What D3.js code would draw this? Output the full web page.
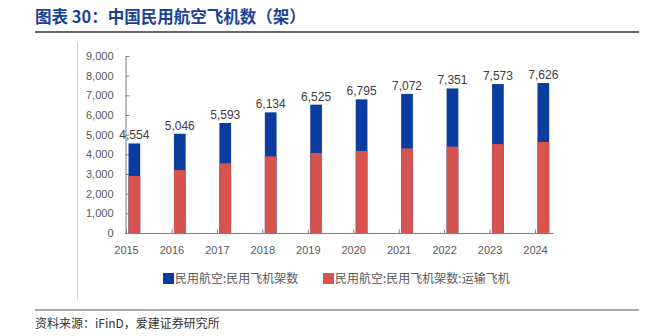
<!DOCTYPE html>
<html lang="zh">
<head>
    <meta charset="UTF-8">
    <title>中国民用航空飞机数</title>
    <style>
        body { margin: 0; background: #fff; }
        svg text { font-family: 'Liberation Sans', 'Noto Sans CJK SC', sans-serif; }
        .cjk { font-family: 'Noto Sans CJK SC', sans-serif; }
    </style>
    <script src="https://d3js.org/d3.v7.min.js"></script>
</head>
<body>
    <svg width="667" height="336"></svg>
    <script>
        // data
        const years = ["2015", "2016", "2017", "2018", "2019", "2020", "2021", "2022", "2023", "2024"];
        const totalPlanes = [4554, 5046, 5593, 6134, 6525, 6795, 7072, 7351, 7573, 7626];
        const transportPlanes = [2900, 3200, 3540, 3900, 4070, 4170, 4300, 4390, 4520, 4630];
        const yTicks = [0, 1000, 2000, 3000, 4000, 5000, 6000, 7000, 8000, 9000];
        const seriesNames = ["民用航空:民用飞机架数", "民用航空:民用飞机架数:运输飞机"];
        const colors = ["#0a3d9f", "#d6534f"];

        const width = 667, height = 336;
        const svg = d3.select("svg").attr("width", width).attr("height", height);

        // header
        svg.append("text")
            .attr("class", "cjk")
            .attr("x", 35)
            .attr("y", 23)
            .style("font-size", "16.5px")
            .style("font-weight", "700")
            .style("fill", "#1b4299")
            .text("图表 30：中国民用航空飞机数（架）");

        svg.append("line")
            .attr("x1", 35).attr("x2", 639)
            .attr("y1", 32).attr("y2", 32)
            .attr("stroke", "#666")
            .attr("stroke-width", 2.2);

        // thin frame line on the left of the chart picture
        svg.append("line")
            .attr("x1", 77.5).attr("x2", 77.5)
            .attr("y1", 42).attr("y2", 300)
            .attr("stroke", "#d0d0d0")
            .attr("stroke-width", 1);

        const x = d3.scalePoint()
            .domain(years)
            .range([126, 535]);

        const y = d3.scaleLinear()
            .domain([0, 9000])
            .range([233, 56]);

        const barW = 11.7, barOff = 2.5;

        // y axis
        const yAxis = svg.append("g")
            .attr("transform", "translate(125.5,0)")
            .call(d3.axisLeft(y).tickValues(yTicks).tickSizeInner(-4).tickSizeOuter(0).tickPadding(12).tickFormat(d3.format(",")));
        yAxis.select(".domain").attr("stroke", "#7f7f7f");
        yAxis.selectAll(".tick line").attr("stroke", "#7f7f7f");
        yAxis.selectAll("text")
            .style("font-size", "11px")
            .style("fill", "#595959");

        // bars: total first, transport drawn over it
        svg.append("g").selectAll("rect")
            .data(years)
            .enter().append("rect")
            .attr("x", d => x(d) + barOff)
            .attr("y", (d, i) => y(totalPlanes[i]))
            .attr("width", barW)
            .attr("height", (d, i) => y(0) - y(totalPlanes[i]))
            .attr("fill", colors[0]);

        svg.append("g").selectAll("rect")
            .data(years)
            .enter().append("rect")
            .attr("x", d => x(d) + barOff)
            .attr("y", (d, i) => y(transportPlanes[i]))
            .attr("width", barW)
            .attr("height", (d, i) => y(0) - y(transportPlanes[i]))
            .attr("fill", colors[1]);

        // x axis
        const xAxis = svg.append("g")
            .attr("transform", "translate(0,233.5)")
            .call(d3.axisBottom(x).tickSizeInner(-4).tickSizeOuter(0).tickPadding(13));
        xAxis.select(".domain").remove();
        xAxis.append("line")
            .attr("x1", 125).attr("x2", x.range()[1] + x.step() * 0.4)
            .attr("stroke", "#7f7f7f");
        xAxis.selectAll(".tick line").attr("stroke", "#7f7f7f");
        xAxis.selectAll("text")
            .style("font-size", "11px")
            .style("fill", "#595959");

        // value labels
        svg.append("g").selectAll("text")
            .data(years)
            .enter().append("text")
            .attr("x", d => x(d) + barOff + barW / 2)
            .attr("y", (d, i) => y(totalPlanes[i]) - 4)
            .attr("text-anchor", "middle")
            .style("font-size", "12px")
            .style("fill", "#404040")
            .text((d, i) => d3.format(",")(totalPlanes[i]));

        // legend
        const legendX = [163, 323];
        const legend = svg.append("g").selectAll("g")
            .data(seriesNames)
            .enter().append("g")
            .attr("transform", (d, i) => `translate(${legendX[i]},273)`);
        legend.append("rect")
            .attr("width", 11).attr("height", 11)
            .attr("fill", (d, i) => colors[i]);
        legend.append("text")
            .attr("class", "cjk")
            .attr("x", 12)
            .attr("y", 10)
            .style("font-size", "12px")
            .style("fill", "#595959")
            .text(d => d);

        // footer
        svg.append("line")
            .attr("x1", 35).attr("x2", 639)
            .attr("y1", 310).attr("y2", 310)
            .attr("stroke", "#555")
            .attr("stroke-width", 1.2);

        svg.append("text")
            .attr("class", "cjk")
            .attr("x", 35)
            .attr("y", 328)
            .style("font-size", "12px")
            .style("fill", "#333")
            .text("资料来源：iFinD，爱建证券研究所");
    </script>
</body>
</html>
